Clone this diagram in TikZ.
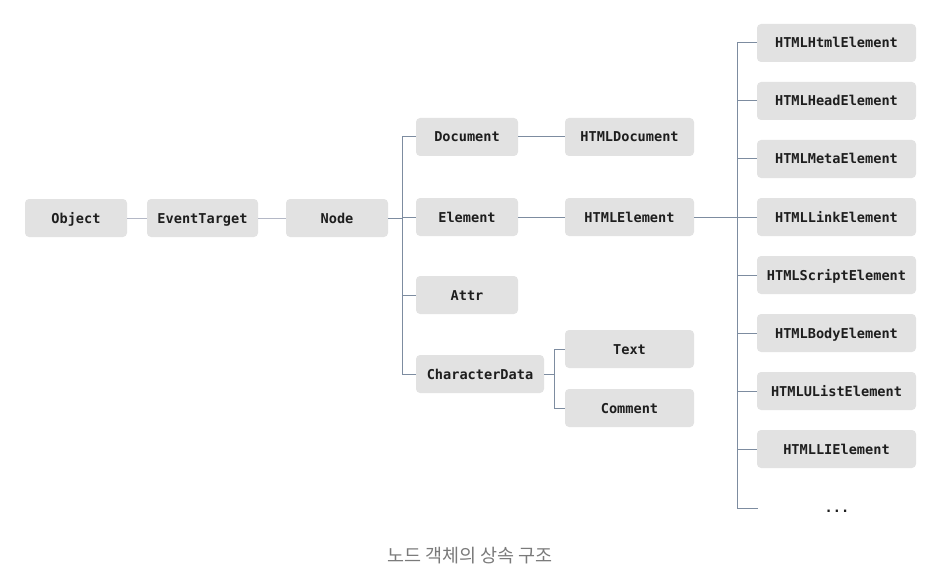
\documentclass[tikz,border=0pt]{standalone}
\usepackage{fontspec}
\setmonofont{DejaVu Sans Mono}
\newfontfamily\cjk{Noto Sans CJK KR}
\usetikzlibrary{calc}
\definecolor{boxfill}{HTML}{E2E2E2}
\definecolor{txt}{HTML}{1E1E1E}
\definecolor{linelight}{HTML}{B4B8C6}
\definecolor{linedark}{HTML}{7D8CA0}
\definecolor{captc}{HTML}{7A7A7A}
\tikzset{
  box/.style={fill=boxfill, draw=none, rounded corners=4pt, text=txt,
    font=\ttfamily\bfseries\fontsize{13.6}{15}\selectfont, inner sep=0pt,
    text height=12pt, text depth=2pt,
    minimum height=38pt, align=center},
  boxA/.style={box, minimum width=102pt},
  boxB/.style={box, minimum width=129pt},
  boxC/.style={box, minimum width=159pt},
  conn/.style={draw=linedark, line width=1pt},
  connl/.style={draw=linelight, line width=1pt},
}
\begin{document}
\begin{tikzpicture}[x=1pt,y=-1pt]
\useasboundingbox (0,0) rectangle (925,572);
% left chain
\node[boxA] (obj) at (76,218) {Object};
\node[box, minimum width=111pt] (et) at (202.5,218) {EventTarget};
\node[boxA] (nd) at (337,218) {Node};
% second level
\node[boxA] (doc) at (467,137) {Document};
\node[boxA] (el) at (467,217) {Element};
\node[boxA] (attr) at (467,295) {Attr};
\node[box, minimum width=128pt] (cd) at (480,374) {CharacterData};
% third level
\node[boxB] (hdoc) at (629.5,137) {HTMLDocument};
\node[boxB] (hel) at (629.5,217) {HTMLElement};
\node[boxB] (txt) at (629.5,349) {Text};
\node[boxB] (com) at (629.5,408) {Comment};
% right column
\node[boxC] (h1) at (836.5,43) {HTMLHtmlElement};
\node[boxC] (h2) at (836.5,101) {HTMLHeadElement};
\node[boxC] (h3) at (836.5,159) {HTMLMetaElement};
\node[boxC] (h4) at (836.5,217) {HTMLLinkElement};
\node[boxC] (h5) at (836.5,275) {HTMLScriptElement};
\node[boxC] (h6) at (836.5,333) {HTMLBodyElement};
\node[boxC] (h7) at (836.5,391) {HTMLUListElement};
\node[boxC] (h8) at (836.5,449) {HTMLLIElement};
\node[text=txt, font=\ttfamily\bfseries\fontsize{13.6}{15}\selectfont, inner sep=0pt, anchor=base] (dots) at (837,512) {...};
\coordinate (dotsL) at (758,508);
% bus coordinates
\coordinate (b1) at (402,0);
\coordinate (b2) at (554,0);
\coordinate (b3) at (737,0);
% connectors
\draw[connl] (obj.east) -- (et.west);
\draw[connl] (et.east) -- (nd.west);
\draw[conn] (nd.east) -- (b1 |- nd.east);
\draw[conn] (b1 |- doc.west) -- (b1 |- cd.west);
\foreach \n in {doc,el,attr,cd} \draw[conn] (b1 |- \n.west) -- (\n.west);
\draw[conn] (doc.east) -- (hdoc.west);
\draw[conn] (el.east) -- (hel.west);
\draw[conn] (cd.east) -- (b2 |- cd.east);
\draw[conn] (b2 |- txt.west) -- (b2 |- com.west);
\foreach \n in {txt,com} \draw[conn] (b2 |- \n.west) -- (\n.west);
\draw[conn] (hel.east) -- (b3 |- hel.east);
\draw[conn] (b3 |- h1.west) -- (b3 |- dotsL);
\foreach \n in {h1,h2,h3,h4,h5,h6,h7,h8} \draw[conn] (b3 |- \n.west) -- (\n.west);
\draw[conn] (b3 |- dotsL) -- (dotsL);
% caption
\node[text=captc, font=\cjk\fontsize{18.5}{20}\selectfont] (cap) at (470,556) {노드 객체의 상속 구조};
\end{tikzpicture}
\end{document}
